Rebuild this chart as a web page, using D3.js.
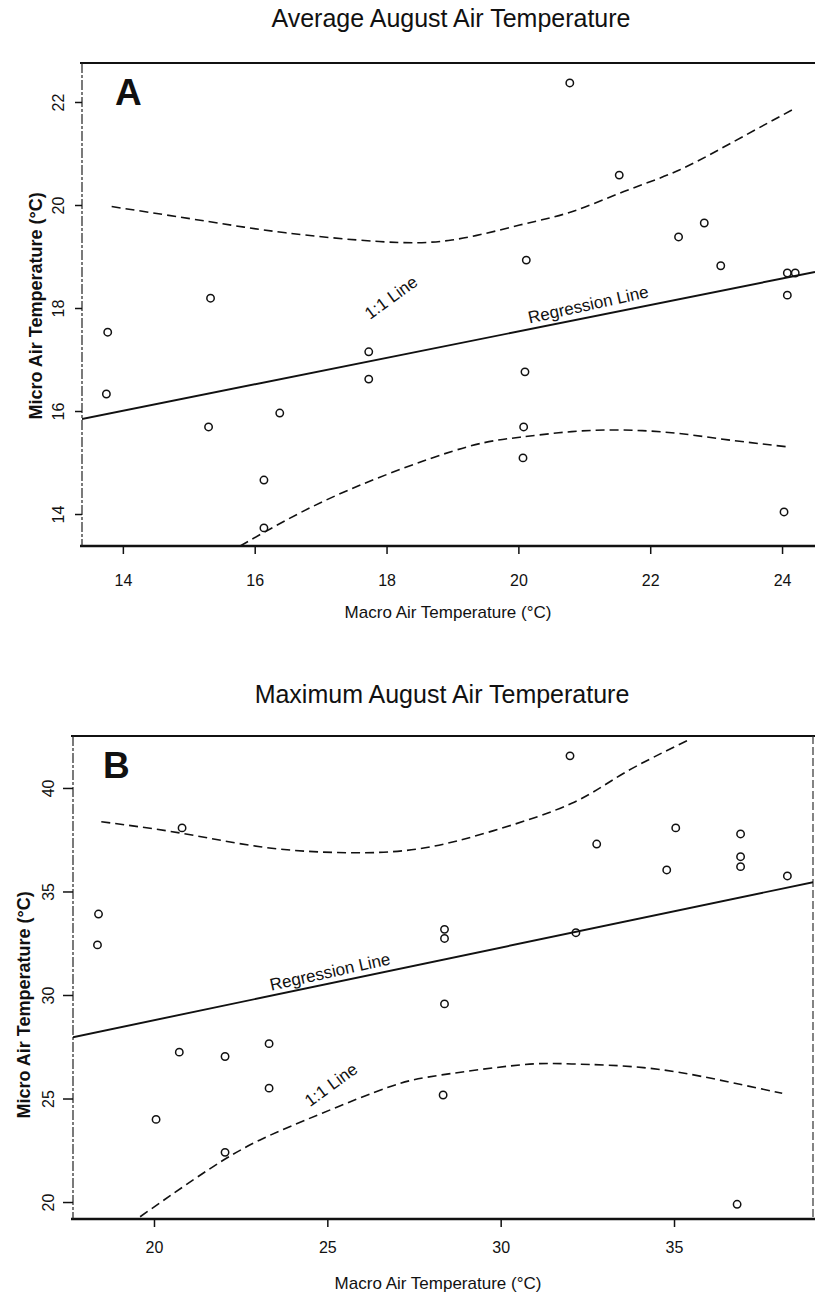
<!DOCTYPE html>
<html>
  <head>
    <meta charset="utf-8">
    <title>August Air Temperature</title>
    <script src="https://d3js.org/d3.v7.min.js"></script>
    <style>
      body { margin: 0; background: #fff; }
      svg { font-family: "Liberation Sans", Arial, Helvetica, sans-serif; }
      .axis .domain { display: none; }
      .axis .tick line { stroke: #111; stroke-width: 1.5px; }
      .axis .tick text { font-size: 16px; fill: #111; }
      .title { font-size: 25px; text-anchor: middle; fill: #111; }
      .axis__label { font-size: 17px; text-anchor: middle; fill: #111; }
      .axis__label--y { font-weight: bold; font-size: 18px; }
      .panel__letter { font-size: 37px; font-weight: bold; fill: #111; }
      .line__label { font-size: 17px; fill: #111; text-anchor: middle; }
      .point { fill: none; stroke: #111; stroke-width: 1.5px; }
      .regression { fill: none; stroke: #111; stroke-width: 1.9px; }
      .band { fill: none; stroke: #111; stroke-width: 1.6px; stroke-dasharray: 9 5; }
    </style>
  </head>
  <body>
    <svg width="815" height="1297"></svg>
    <script>
      // Panel A: average August air temperature
      const aMacro = [20.78, 21.53, 20.12, 22.43, 22.82, 23.07, 24.08, 24.2, 24.08, 15.33, 13.77,
                      13.75, 17.73, 17.73, 20.1, 16.38, 15.3, 20.08, 20.07, 16.14, 16.14, 24.03];
      const aMicro = [22.37, 20.58, 18.93, 19.38, 19.65, 18.82, 18.68, 18.68, 18.25, 18.19, 17.53,
                      16.33, 17.15, 16.62, 16.76, 15.96, 15.69, 15.69, 15.09, 14.66, 13.73, 14.04];
      const aRegX = [13.36, 24.5];
      const aRegY = [15.84, 18.7];
      const aUpperX = [13.83, 15.29, 16.47, 17.89, 18.99, 20.02, 20.81, 21.6, 22.39, 23.18, 24.2];
      const aUpperY = [19.97, 19.68, 19.46, 19.29, 19.32, 19.61, 19.87, 20.26, 20.65, 21.17, 21.88];
      const aLowerX = [15.78, 16.87, 18.05, 19.24, 20.02, 20.81, 21.6, 22.39, 23.18, 24.12];
      const aLowerY = [13.38, 14.14, 14.79, 15.31, 15.49, 15.6, 15.63, 15.57, 15.44, 15.3];
      const aXTicks = [14, 16, 18, 20, 22, 24];
      const aYTicks = [14, 16, 18, 20, 22];

      // Panel B: maximum August air temperature
      const bMacro = [32.0, 20.81, 35.05, 36.92, 32.77, 34.79, 36.92, 36.92, 38.27, 18.4, 18.37, 28.38,
                      28.38, 32.17, 28.38, 20.73, 22.05, 23.32, 23.32, 28.34, 20.06, 22.05, 36.82];
      const bMicro = [41.55, 38.07, 38.07, 37.78, 37.29, 36.04, 36.68, 36.2, 35.75, 33.91, 32.42, 33.17,
                      32.73, 33.01, 29.57, 27.24, 27.03, 27.65, 25.5, 25.17, 23.99, 22.4, 19.89];
      const bRegX = [17.66, 39.07];
      const bRegY = [27.96, 35.47];
      const bUpperX = [18.48, 20.81, 23.06, 25.3, 27.55, 29.8, 32.05, 33.55, 35.42];
      const bUpperY = [38.37, 37.81, 37.16, 36.88, 37.04, 37.94, 39.26, 40.71, 42.32];
      const bLowerX = [19.6, 21.56, 23.06, 24.85, 26.8, 28.3, 30.55, 32.05, 34.3, 36.55, 38.12];
      const bLowerY = [19.29, 21.55, 23.0, 24.29, 25.57, 26.14, 26.62, 26.67, 26.46, 25.81, 25.25];
      const bXTicks = [20, 25, 30, 35];
      const bYTicks = [20, 25, 30, 35, 40];

      const xTitle = "Macro Air Temperature (°C)";
      const yTitle = "Micro Air Temperature (°C)";

      const zip = (xs, ys) => xs.map((x, i) => [x, ys[i]]);

      function xAxis(g, props){
        const axis = g.append("g")
          .attr("class", "axis axis--x")
          .attr("transform", `translate(0, ${props.frame.bottom})`)
          .call(d3.axisBottom(props.scale)
            .tickValues(props.ticks)
            .tickSize(props.tickSize)
            .tickPadding(props.tickPadding));
        axis.selectAll(".tick line").attr("transform", "translate(0, 1)");

        g.append("text")
          .attr("class", "axis__label")
          .attr("x", props.labelX)
          .attr("y", props.labelY)
          .text(xTitle);
      }

      function yAxis(g, props){
        const axis = g.append("g")
          .attr("class", "axis axis--y")
          .attr("transform", `translate(${props.frame.left}, 0)`)
          .call(d3.axisLeft(props.scale)
            .tickValues(props.ticks)
            .tickSize(props.tickSize));
        axis.selectAll(".tick text")
          .attr("transform", "rotate(-90)")
          .attr("x", 0)
          .attr("y", -props.labelOffset)
          .attr("dy", 0)
          .attr("text-anchor", "middle");

        g.append("text")
          .attr("class", "axis__label axis__label--y")
          .attr("transform", `translate(${props.titleX}, ${props.titleY}) rotate(-90)`)
          .attr("dominant-baseline", "central")
          .text(yTitle);
      }

      function panel(svg, props){
        const { id, frame } = props;
        const x = d3.scaleLinear().domain(props.xDomain).range([frame.left, frame.right]);
        const y = d3.scaleLinear().domain(props.yDomain).range([frame.bottom, frame.top]);

        const g = svg.append("g").attr("class", "panel panel--" + id);

        svg.append("clipPath").attr("id", "clip-" + id)
          .append("rect")
            .attr("x", frame.left).attr("y", frame.top)
            .attr("width", frame.right - frame.left)
            .attr("height", frame.bottom - frame.top);

        g.append("text")
          .attr("class", "title")
          .attr("x", props.titleX)
          .attr("y", props.titleY)
          .text(props.title);

        // frame: heavy top and bottom rules, light broken left side
        g.append("line").attr("x1", frame.left - 2).attr("x2", frame.right + 2)
          .attr("y1", frame.top).attr("y2", frame.top)
          .attr("stroke", "#111").attr("stroke-width", 2.2);
        g.append("line").attr("x1", frame.left - 2).attr("x2", frame.right + 2)
          .attr("y1", frame.bottom).attr("y2", frame.bottom)
          .attr("stroke", "#111").attr("stroke-width", 2.4);
        g.append("line").attr("x1", frame.left).attr("x2", frame.left)
          .attr("y1", frame.top).attr("y2", frame.bottom)
          .attr("stroke", "#222").attr("stroke-width", 1.2)
          .attr("stroke-dasharray", "10 2 3 2");
        if (props.rightSide) {
          g.append("line").attr("x1", frame.right).attr("x2", frame.right)
            .attr("y1", frame.top).attr("y2", frame.bottom)
            .attr("stroke", "#333").attr("stroke-width", 1.2)
            .attr("stroke-dasharray", "8 3");
        }

        xAxis(g, {
          scale: x, frame, ticks: props.xTicks,
          tickSize: 7, tickPadding: props.xTickPadding,
          labelX: props.xLabelX, labelY: props.xLabelY
        });
        yAxis(g, {
          scale: y, frame, ticks: props.yTicks,
          tickSize: props.yTickSize, labelOffset: props.yLabelOffset,
          titleX: props.yTitleX, titleY: props.yTitleY
        });

        const plot = g.append("g").attr("clip-path", `url(#clip-${id})`);
        const line = d3.line().x(d => x(d[0])).y(d => y(d[1]));
        const curve = d3.line().x(d => x(d[0])).y(d => y(d[1])).curve(d3.curveNatural);

        plot.append("path").attr("class", "regression")
          .attr("d", line(zip(props.regX, props.regY)));
        plot.append("path").attr("class", "band")
          .attr("d", curve(zip(props.upperX, props.upperY)));
        plot.append("path").attr("class", "band")
          .attr("d", curve(zip(props.lowerX, props.lowerY)));

        g.selectAll(".point--" + id)
          .data(zip(props.macro, props.micro))
          .join("circle")
            .attr("class", "point point--" + id)
            .attr("cx", d => x(d[0]))
            .attr("cy", d => y(d[1]))
            .attr("r", 3.7);

        g.append("text")
          .attr("class", "line__label")
          .attr("transform", `translate(${x(props.oneLabel[0])}, ${y(props.oneLabel[1])}) rotate(-36)`)
          .attr("dominant-baseline", "central")
          .text("1:1 Line");
        g.append("text")
          .attr("class", "line__label")
          .attr("transform", `translate(${x(props.regLabel[0])}, ${y(props.regLabel[1])}) rotate(-12.5)`)
          .attr("dominant-baseline", "central")
          .text("Regression Line");

        g.append("text")
          .attr("class", "panel__letter")
          .attr("x", frame.left + props.letterDx)
          .attr("y", frame.top + 42)
          .text(id.toUpperCase());
      }

      function main(){
        const svg = d3.select("svg");

        panel(svg, {
          id: "a",
          title: "Average August Air Temperature",
          titleX: 451, titleY: 27,
          frame: { left: 82, right: 816, top: 63, bottom: 546 },
          xDomain: [13.38, 24.515], yDomain: [13.379, 22.757],
          xTicks: aXTicks, yTicks: aYTicks,
          xTickPadding: 22, xLabelX: 448, xLabelY: 618,
          yTickSize: 7, yLabelOffset: 18, yTitleX: 36, yTitleY: 306,
          macro: aMacro, micro: aMicro,
          regX: aRegX, regY: aRegY,
          upperX: aUpperX, upperY: aUpperY, lowerX: aLowerX, lowerY: aLowerY,
          oneLabel: [18.07, 18.2], regLabel: [21.06, 18.06],
          letterDx: 33, rightSide: false
        });

        panel(svg, {
          id: "b",
          title: "Maximum August Air Temperature",
          titleX: 442, titleY: 703,
          frame: { left: 73, right: 813, top: 736, bottom: 1219 },
          xDomain: [17.664, 39.009], yDomain: [19.18, 42.51],
          xTicks: bXTicks, yTicks: bYTicks,
          xTickPadding: 16, xLabelX: 438, xLabelY: 1289,
          yTickSize: 10, yLabelOffset: 19, yTitleX: 24, yTitleY: 1005,
          macro: bMacro, micro: bMicro,
          regX: bRegX, regY: bRegY,
          upperX: bUpperX, upperY: bUpperY, lowerX: bLowerX, lowerY: bLowerY,
          oneLabel: [25.11, 25.65], regLabel: [25.08, 31.11],
          letterDx: 30, rightSide: true
        });
      }
      main();
    </script>
  </body>
</html>
